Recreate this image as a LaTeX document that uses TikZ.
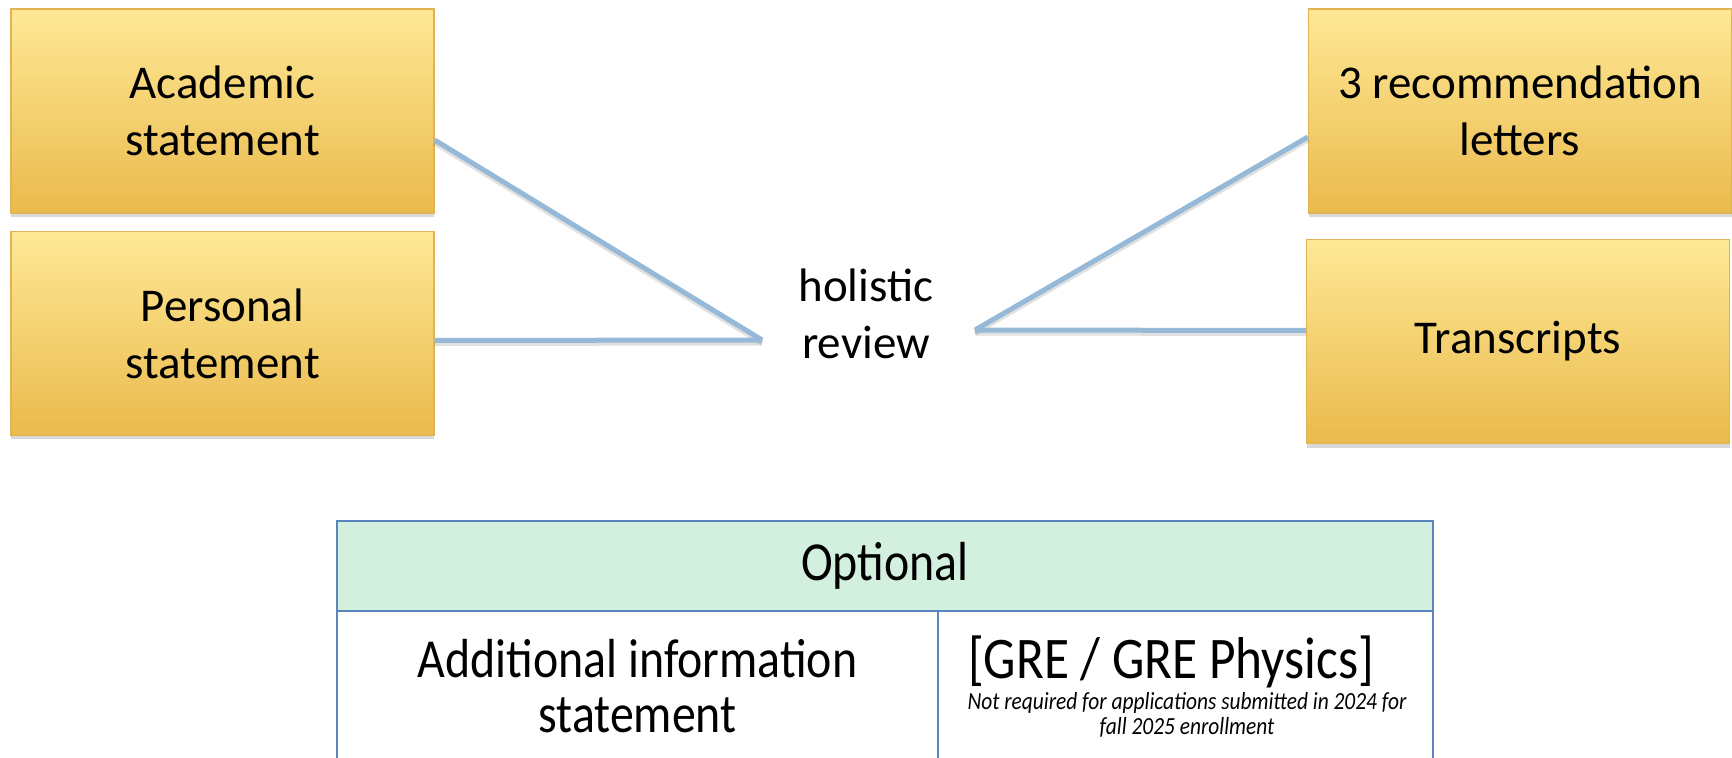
\documentclass[tikz,border=0pt]{standalone}
\usepackage{fontspec}
\setmainfont{Carlito}
\newfontfamily\tablefont[FakeStretch=0.87]{Carlito}
\usepackage{xcolor}
\usetikzlibrary{positioning, shadows}

\definecolor{goldtop}{RGB}{254,232,150}
\definecolor{goldbot}{RGB}{234,186,76}
\definecolor{goldline}{RGB}{224,180,84}
\definecolor{linkblue}{RGB}{150,185,215}
\definecolor{tabline}{RGB}{90,134,188}
\definecolor{tabhead}{RGB}{211,239,222}

\begin{document}
\begin{tikzpicture}[
  x=0.5pt, y=-0.5pt,
  doc/.style={rectangle, draw=goldline, line width=0.6pt,
              top color=goldtop, bottom color=goldbot,
              minimum width=211.5pt, minimum height=102pt,
              text centered, align=center,
              font=\fontsize{23.5}{28.5}\selectfont,
              drop shadow={opacity=0.3, shadow xshift=0pt, shadow yshift=-2pt}},
  link/.style={draw=linkblue, line width=2.5pt,
               preaction={draw=black, opacity=0.12, line width=2.5pt,
                          transform canvas={yshift=-1.5pt}}},
  cell/.style={rectangle, draw=tabline, line width=1pt, inner sep=0pt},
  celltext/.style={align=center, font=\tablefont\fontsize{27.5}{27.5}\selectfont},
  notetext/.style={align=center, font=\tablefont\itshape\fontsize{12.3}{12.5}\selectfont}
]
  \useasboundingbox (0,0) rectangle (1732,758);
  \clip (0,0) rectangle (1732,758);

  % application parts
  \node (acad)  [doc] at (222.5,111)   {Academic\\statement};
  \node (pers)  [doc] at (222.5,333.5) {Personal\\statement};
  \node (rec)   [doc] at (1520,111)    {3 recommendation\\letters};
  \node (trans) [doc] at (1518,341.5)  {Transcripts};

  \node (review) [align=center, font=\fontsize{23.5}{28.5}\selectfont] at (866,314) {holistic\\review};

  \coordinate (hl) at (762,340);
  \coordinate (hr) at (975,330);
  \coordinate (acadend)  at ([yshift=-14.5pt]acad.east);
  \coordinate (persend)  at ([yshift=-3.5pt]pers.east);
  \coordinate (recend)   at ([yshift=-13pt]rec.west);
  \coordinate (transend) at ([yshift=5.5pt]trans.west);

  \foreach \a/\b in {acadend/hl, persend/hl, recend/hr, transend/hr}
    \draw[link] (\a) -- (\b);

  % optional table
  \node (optl) [cell, fill=tabhead, minimum width=548pt, minimum height=45pt,
                font=\tablefont\fontsize{27.5}{27.5}\selectfont] at (885,566) {Optional};
  \node (addl) [cell, minimum width=300.5pt, minimum height=84.5pt] at (637.5,695.5) {};
  \node (gre)  [cell, minimum width=247.5pt, minimum height=84.5pt] at (1185.5,695.5) {};

  \node (addltext) [celltext] at (637.5,686.5) {Additional information\\statement};
  \node (gretext)  [celltext, font=\tablefont\fontsize{29.5}{30}\selectfont] at (1171,662) {[GRE / GRE Physics]};
  \node (grenote)  [notetext] at (1187,715)
    {Not required for applications submitted in 2024 for\\fall 2025 enrollment};
\end{tikzpicture}
\end{document}
